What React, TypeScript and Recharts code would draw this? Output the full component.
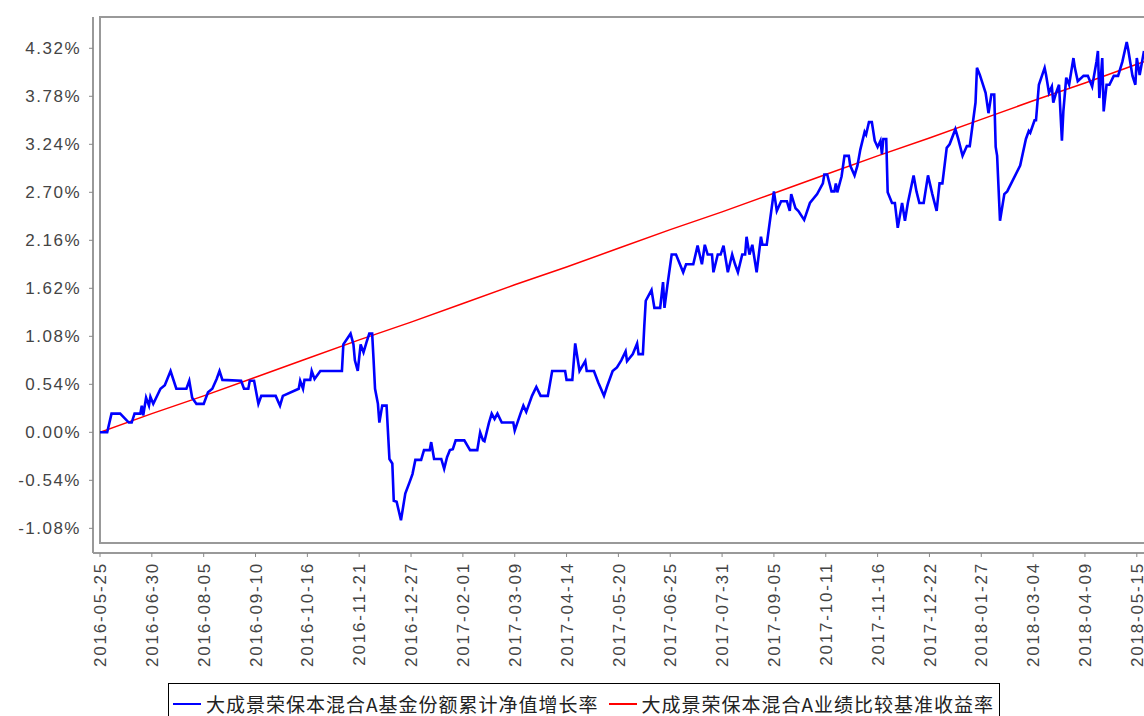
import React from 'react';
import { LineChart, Line, XAxis, YAxis, ReferenceArea } from 'recharts';

// x positions are days since 2016-05-25
const tickDates = [
  '2016-05-25', '2016-06-30', '2016-08-05', '2016-09-10', '2016-10-16', '2016-11-21',
  '2016-12-27', '2017-02-01', '2017-03-09', '2017-04-14', '2017-05-20', '2017-06-25',
  '2017-07-31', '2017-09-05', '2017-10-11', '2017-11-16', '2017-12-22', '2018-01-27',
  '2018-03-04', '2018-04-09', '2018-05-15',
];
const tickDays = [0, 36, 72, 108, 144, 180, 216, 252, 288, 324, 360, 396, 432, 468, 504, 540, 576, 612, 648, 684, 720];
const yTicks = [-1.08, -0.54, 0, 0.54, 1.08, 1.62, 2.16, 2.7, 3.24, 3.78, 4.32];

const navDays = [
  0, 1, 5, 8, 14, 20, 22, 24, 28, 29, 30, 32, 34, 35, 37, 42, 45, 49, 53, 60, 62, 64, 67, 72, 75, 78, 81, 83, 85, 98, 100, 103, 104, 107, 110, 112, 122, 125, 127, 138, 139,
  141, 142, 146, 147, 149, 153, 168, 169, 174, 176, 177, 179, 181, 183, 185, 187, 189, 190, 191, 193, 194, 196, 199, 201, 203, 204, 206, 209, 212, 215, 217, 219, 223, 225, 229, 230, 232, 237, 239, 241, 243, 245, 247, 253, 257, 262, 264, 266, 267,
  270, 272, 274, 276, 279, 287, 288, 292, 294, 296, 300, 303, 306, 311, 314, 323, 324, 328, 330, 333, 337, 338, 343, 346, 350, 352, 356, 359, 362, 365, 366, 370, 373, 374, 377, 378, 379, 383, 385, 389, 391, 392, 394, 397, 400, 405, 407, 412, 415,
  418, 420, 422, 425, 426, 429, 431, 433, 436, 439, 441, 443, 446, 448, 449, 451, 453, 456, 459, 460, 463, 468, 470, 473, 477, 479, 480, 483, 485, 489, 493, 498, 502, 503, 505, 508, 510, 511, 512, 515, 517, 520, 521, 524, 526, 528, 531, 532, 534, 536, 538, 540, 542, 543, 544, 546, 547,
  550, 552, 554, 557, 559, 561, 565, 567, 569, 572, 575, 578, 581, 583, 585, 588, 590, 594, 596, 599, 602, 604, 608, 609, 611, 615, 617, 619, 621, 622, 623, 625, 628, 630, 639, 643, 645, 646, 649, 650, 651, 652, 656, 657, 659, 661, 662, 664, 666, 668, 669, 671, 673, 676, 677, 679, 683, 686, 689, 692, 693, 694, 696, 697, 699, 701, 704, 707, 710, 713, 714, 717, 719, 720, 722, 725,
];
const navValues = [
  0.0, 0.0, 0.0, 0.21, 0.21, 0.11, 0.11, 0.21, 0.21, 0.3, 0.19, 0.39, 0.3, 0.4, 0.32, 0.49, 0.53, 0.69, 0.49, 0.49, 0.58, 0.39, 0.32, 0.32, 0.45, 0.49, 0.6, 0.69, 0.59, 0.58, 0.49, 0.49, 0.58, 0.58, 0.32, 0.41, 0.41, 0.3, 0.41, 0.49, 0.58,
  0.49, 0.59, 0.59, 0.69, 0.6, 0.69, 0.69, 0.99, 1.11, 0.99, 0.81, 0.69, 0.99, 0.9, 1.01, 1.11, 1.11, 0.81, 0.49, 0.32, 0.11, 0.3, 0.3, -0.3, -0.35, -0.77, -0.78, -0.99, -0.69, -0.56, -0.47, -0.31, -0.31, -0.2, -0.2, -0.11, -0.3, -0.3, -0.41, -0.28, -0.2, -0.19, -0.09, -0.09, -0.2, -0.2, 0.0, -0.09, -0.1,
  0.1, 0.21, 0.15, 0.21, 0.11, 0.11, 0.02, 0.21, 0.3, 0.23, 0.41, 0.51, 0.41, 0.41, 0.69, 0.69, 0.59, 0.59, 1.0, 0.69, 0.8, 0.69, 0.69, 0.56, 0.41, 0.51, 0.69, 0.73, 0.81, 0.91, 0.8, 0.88, 1.0, 0.88, 0.88, 1.2, 1.48, 1.6, 1.4, 1.4, 1.69, 1.4, 1.65, 2.0, 2.0, 1.8, 1.89, 1.89, 2.1,
  1.89, 2.11, 2.0, 2.0, 1.8, 2.0, 2.0, 2.1, 1.8, 2.0, 1.89, 1.8, 2.0, 2.0, 2.2, 2.0, 2.11, 1.8, 2.2, 2.11, 2.11, 2.71, 2.49, 2.6, 2.6, 2.49, 2.68, 2.52, 2.49, 2.39, 2.58, 2.68, 2.8, 2.9, 2.9, 2.71, 2.71, 2.8, 2.7, 2.88, 3.11, 3.11, 3.0, 2.89, 3.0, 3.18, 3.38, 3.35, 3.49, 3.49, 3.28, 3.21, 3.28, 3.13, 3.3, 3.3, 2.7,
  2.58, 2.58, 2.3, 2.58, 2.38, 2.58, 2.89, 2.71, 2.58, 2.58, 2.89, 2.68, 2.49, 2.8, 2.8, 3.2, 3.24, 3.41, 3.3, 3.11, 3.22, 3.22, 3.71, 4.1, 4.02, 3.82, 3.59, 3.8, 3.8, 3.21, 3.11, 2.38, 2.68, 2.71, 3.0, 3.3, 3.39, 3.37, 3.51, 3.51, 3.71, 3.91, 4.1, 4.02, 3.82, 3.89, 3.71, 3.82, 3.91, 3.28, 3.61, 3.99, 3.91, 4.21, 4.1, 3.95, 4.01, 4.01, 3.89, 4.17, 4.29, 3.76, 4.21, 3.61, 3.91, 3.91, 4.01, 4.01, 4.17, 4.39, 4.31, 4.01, 3.91, 4.21, 4.02, 4.29,
];

const benchDays = [0, 36, 72, 108, 144, 180, 216, 252, 288, 324, 360, 396, 432, 468, 504, 540, 576, 612, 648, 684, 720, 725];
const benchValues = [0.0, 0.21, 0.41, 0.62, 0.83, 1.04, 1.24, 1.45, 1.66, 1.86, 2.07, 2.28, 2.48, 2.69, 2.9, 3.11, 3.31, 3.52, 3.73, 3.93, 4.14, 4.17];

const seriesNames = ['大成景荣保本混合A基金份额累计净值增长率', '大成景荣保本混合A业绩比较基准收益率'];
const seriesColors = ['#0000ff', '#ff0000'];

const navData = navDays.map((d, i) => ({ day: d, value: navValues[i] }));
const benchData = benchDays.map((d, i) => ({ day: d, value: benchValues[i] }));

const X_MAX = 737.5;
const Y_MIN = -1.245;
const Y_MAX = 4.672;
const axisFont = "'Liberation Sans', Arial, sans-serif";

const XTick = (props: any) => {
  const { x, y, payload } = props;
  const idx = tickDays.indexOf(payload.value);
  return (
    <g transform={`translate(${x},${y})`}>
      <text transform="rotate(-90)" textAnchor="end" dy="0.36em" fontSize={17} letterSpacing={1.8} fill="#444" fontFamily={axisFont}>
        {idx >= 0 ? tickDates[idx] : ''}
      </text>
    </g>
  );
};

const YTick = (props: any) => {
  const { x, y, payload } = props;
  return (
    <text x={x} y={y} dy="0.36em" textAnchor="end" fontSize={17} letterSpacing={1.5} fill="#444" fontFamily={axisFont}>
      {Number(payload.value).toFixed(2) + '%'}
    </text>
  );
};

export default function App() {
  return (
    <div style={{ position: 'absolute', left: 0, top: 0, width: 1144, height: 716, overflow: 'hidden', background: '#fff' }}>
      <LineChart width={1170} height={716} margin={{ top: 17, right: 8, bottom: 43, left: 0 }}>
        <ReferenceArea x1={0} x2={X_MAX} y1={Y_MIN} y2={Y_MAX} fill="none" stroke="#999" strokeWidth={2} ifOverflow="visible" />
        <XAxis
          dataKey="day"
          type="number"
          domain={[0, X_MAX]}
          ticks={tickDays}
          interval={0}
          padding={{ left: 7, right: 0 }}
          allowDataOverflow
          height={120}
          tickSize={4}
          tickMargin={5}
          stroke="#999"
          axisLine={{ stroke: '#999', strokeWidth: 2 }}
          tickLine={{ stroke: '#888' }}
          tick={<XTick />}
        />
        <YAxis
          type="number"
          domain={[Y_MIN, Y_MAX]}
          ticks={yTicks}
          interval={0}
          padding={{ top: 0, bottom: 10 }}
          allowDataOverflow
          width={93}
          tickSize={4}
          tickMargin={8}
          axisLine={{ stroke: '#999', strokeWidth: 2 }}
          tickLine={{ stroke: '#888' }}
          tick={<YTick />}
        />
        <Line data={benchData} dataKey="value" type="linear" stroke={seriesColors[1]} strokeWidth={1.5} dot={false} isAnimationActive={false} name={seriesNames[1]} />
        <Line data={navData} dataKey="value" type="linear" stroke={seriesColors[0]} strokeWidth={2.6} dot={false} isAnimationActive={false} name={seriesNames[0]} />
      </LineChart>
      <div
        style={{
          position: 'absolute',
          left: 168,
          top: 683,
          width: 832,
          height: 50,
          border: '1px solid #000',
          boxSizing: 'border-box',
          display: 'flex',
          alignItems: 'flex-start',
          paddingTop: 9,
          fontFamily: "'Noto Sans CJK SC', sans-serif",
          fontSize: 19,
          letterSpacing: 1,
          color: '#222',
          whiteSpace: 'nowrap',
        }}
      >
        {seriesNames.map((n, i) => (
          <div key={n} style={{ display: 'flex', alignItems: 'center', marginLeft: i === 0 ? 4 : 10, lineHeight: '22px' }}>
            <span style={{ display: 'inline-block', width: 28, height: 2, background: seriesColors[i], marginRight: 5 }} />
            <span>{n}</span>
          </div>
        ))}
      </div>
    </div>
  );
}
